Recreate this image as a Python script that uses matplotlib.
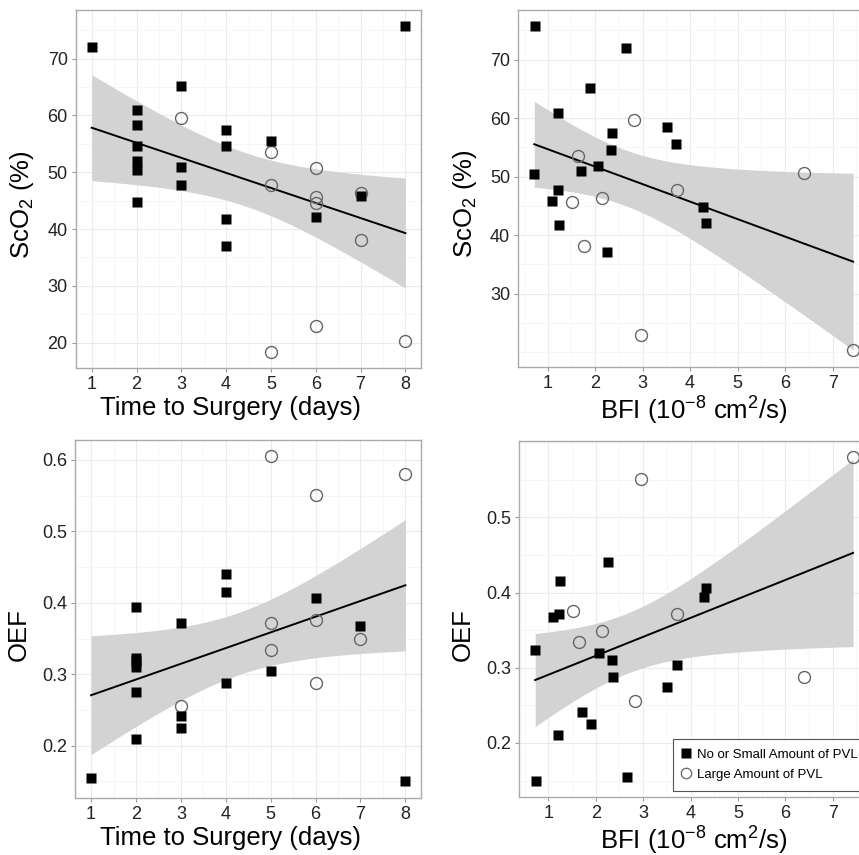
import numpy as np
import matplotlib
matplotlib.use('Agg')
import matplotlib.pyplot as plt
from matplotlib.lines import Line2D

plt.rcParams['font.family'] = ['Liberation Sans', 'DejaVu Sans']
plt.rcParams['mathtext.fontset'] = 'custom'
plt.rcParams['mathtext.rm'] = 'Liberation Sans'
plt.rcParams['mathtext.it'] = 'Liberation Sans:italic'

# one entry per patient, nan = not measured
days = np.array([1, 2, 2, 2, 2, 2, 2, 3, 3, 3, 4, 4, 4, 4, 5, 6, 7, 8,
                 3, 5, 5, 5, 6, 6, 6, 6, 7, 7, 8], dtype=float)
bfi = np.array([2.66, 1.21, 3.51, 2.34, 2.07, 0.72, 4.28, 1.90, 1.71, 1.22,
                2.36, np.nan, 1.25, 2.25, 3.71, 4.33, 1.09, 0.74,
                2.82, 1.65, 3.72, np.nan, 6.40, 1.52, np.nan, 2.96, 2.14, 1.77, 7.43])
sco2 = np.array([72.0, 60.9, 58.4, 54.6, 51.9, 50.4, 44.8, 65.2, 50.9, 47.8,
                 57.5, 54.6, 41.8, 37.1, 55.5, 42.1, 45.9, 75.7,
                 59.6, 53.6, 47.7, 18.4, 50.7, 45.6, 44.6, 23.0, 46.3, 38.1, 20.3])
oef = np.array([0.155, 0.210, 0.275, 0.310, 0.319, 0.323, 0.394, 0.225, 0.241, 0.371,
                0.288, np.nan, 0.415, 0.440, 0.304, 0.406, 0.368, 0.150,
                0.256, 0.334, 0.372, 0.605, 0.288, 0.376, np.nan, 0.551, 0.349, np.nan, 0.580])
large_pvl = np.array([False] * 18 + [True] * 11)

legend_labels = ['No or Small Amount of PVL', 'Large Amount of PVL']


def t975(df):
    # Cornish-Fisher approximation of the 97.5% t quantile
    z = 1.959963985
    g1 = (z**3 + z) / 4
    g2 = (5 * z**5 + 16 * z**3 + 3 * z) / 96
    g3 = (3 * z**7 + 19 * z**5 + 17 * z**3 - 15 * z) / 384
    return z + g1 / df + g2 / df**2 + g3 / df**3


def lm_band(x, y):
    """Linear fit with 95% confidence band of the mean (like geom_smooth)."""
    n = len(x)
    b, a = np.polyfit(x, y, 1)
    xs = np.linspace(x.min(), x.max(), 80)
    fit = a + b * xs
    s = np.sqrt(np.sum((y - (a + b * x)) ** 2) / (n - 2))
    se = s * np.sqrt(1 / n + (xs - x.mean()) ** 2 / np.sum((x - x.mean()) ** 2))
    t = t975(n - 2)
    return xs, fit, fit - t * se, fit + t * se


def panel(ax, x, y, xstep, ystep, xlabel, ylabel, yfmt, xlab_pos=0.5):
    ok = ~np.isnan(x) & ~np.isnan(y)
    x, y, big = x[ok], y[ok], large_pvl[ok]

    xs, fit, lo, hi = lm_band(x, y)
    ax.fill_between(xs, lo, hi, color='#d3d3d3', lw=0, zorder=2)
    ax.plot(xs, fit, color='black', lw=1.4, zorder=3)

    ax.plot(x[big], y[big], 'o', ms=8.6, mfc='none', mec='#666666', mew=1.0, zorder=4)
    ax.plot(x[~big], y[~big], 's', ms=7.7, color='black', mec='none', zorder=5)

    # ggplot style limits: data range + 5%
    xr = x.max() - x.min()
    yr = y.max() - y.min()
    x0, x1 = x.min() - 0.05 * xr, x.max() + 0.05 * xr
    y0, y1 = y.min() - 0.05 * yr, y.max() + 0.05 * yr
    ax.set_xlim(x0, x1)
    ax.set_ylim(y0, y1)

    xt = np.arange(np.ceil(x.min() / xstep - 1e-9), np.floor(x.max() / xstep + 1e-9) + 1) * xstep
    yt = np.arange(np.ceil(y.min() / ystep - 1e-9), np.floor(y.max() / ystep + 1e-9) + 1) * ystep
    ax.set_xticks(xt)
    ax.set_yticks(yt)
    ax.set_yticklabels([yfmt.format(v) for v in yt])
    xm = np.arange(xt[0] - xstep, xt[-1] + 1.01 * xstep, xstep / 2)
    ym = np.arange(yt[0] - ystep, yt[-1] + 1.01 * ystep, ystep / 2)
    ax.set_xticks(xm[(xm > x0) & (xm < x1)], minor=True)
    ax.set_yticks(ym[(ym > y0) & (ym < y1)], minor=True)

    ax.grid(which='major', color='#ebebeb', lw=0.8, zorder=0)
    ax.grid(which='minor', color='#f3f3f3', lw=0.5, zorder=0)
    ax.set_axisbelow(True)
    ax.tick_params(which='major', length=3, width=0.8, color='#999999',
                   labelsize=13, labelcolor='#222222', pad=3)
    ax.tick_params(which='minor', length=0)
    for sp in ax.spines.values():
        sp.set_color('#aaaaaa')
        sp.set_linewidth(1.0)

    ax.set_xlabel(xlabel, fontsize=18.5, labelpad=1)
    ax.set_ylabel(ylabel, fontsize=18.5, labelpad=8)
    ax.xaxis.set_label_coords(xlab_pos, -0.078)
    ax.yaxis.label.set_y(0.457)


fig = plt.figure(figsize=(8.59, 8.55), dpi=100)
ax_tl = fig.add_axes([0.0885, 0.5696, 0.4016, 0.4187])
ax_tr = fig.add_axes([0.6034, 0.5711, 0.4083, 0.4172])
ax_bl = fig.add_axes([0.0877, 0.0670, 0.4025, 0.4184])
ax_br = fig.add_axes([0.6045, 0.0682, 0.4071, 0.4160])

days_label = 'Time to Surgery (days)'
bfi_label = r'BFI (10$^{-8}$ cm$^{2}$/s)'
sco2_label = r'ScO$_2$ (%)'

panel(ax_tl, days, sco2, 1, 10, days_label, sco2_label, '{:.0f}', xlab_pos=0.449)
panel(ax_tr, bfi, sco2, 1, 10, bfi_label, sco2_label, '{:.0f}')
panel(ax_bl, days, oef, 1, 0.1, days_label, 'OEF', '{:.1f}', xlab_pos=0.449)
panel(ax_br, bfi, oef, 1, 0.1, bfi_label, 'OEF', '{:.1f}')

handles = [Line2D([], [], ls='none', marker='s', ms=6.5, color='black', mec='none'),
           Line2D([], [], ls='none', marker='o', ms=7.5, mfc='none', mec='#666666', mew=0.9)]
leg = ax_br.legend(handles, legend_labels, loc='lower left', bbox_to_anchor=(0.4395, 0.016),
                   borderaxespad=0, fontsize=9.5, frameon=True, fancybox=False,
                   framealpha=1, edgecolor='#555555', handlelength=0.5, handletextpad=0.6,
                   labelspacing=0.6, borderpad=0.75)
leg.get_frame().set_linewidth(0.8)
leg.set_zorder(10)

fig.savefig('out.png', dpi=100)
